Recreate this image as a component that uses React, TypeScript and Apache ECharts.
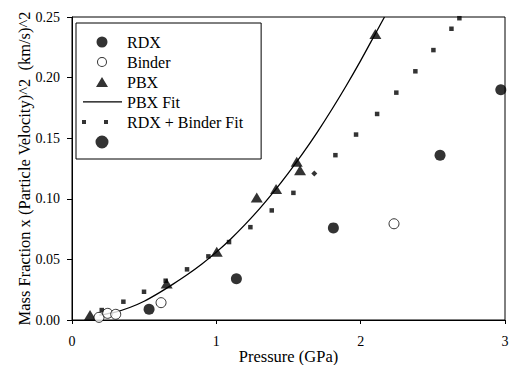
import React, { useEffect, useRef } from "react";
import * as echarts from "echarts";

// RDX (filled circles)
const rdxX = [0.534, 1.139, 1.811, 2.55, 2.971];
const rdxY = [0.0088, 0.034, 0.076, 0.136, 0.19];
// Binder (open circles)
const binderX = [0.187, 0.247, 0.303, 0.617, 2.231];
const binderY = [0.0022, 0.0055, 0.0047, 0.0143, 0.0794];
// PBX (triangles)
const pbxX = [0.125, 0.656, 1.003, 1.28, 1.414, 1.557, 1.58, 2.102];
const pbxY = [0.0041, 0.0302, 0.0563, 0.101, 0.108, 0.1305, 0.1236, 0.236];
// PBX Fit (solid curve)
const pbxFitX = [0.19, 0.3, 0.4, 0.5, 0.6, 0.7, 0.8, 0.9, 1.0, 1.1, 1.2, 1.3, 1.4, 1.5, 1.6, 1.7, 1.8, 1.9, 2.0, 2.1, 2.165];
const pbxFitY = [0.004, 0.0065, 0.0103, 0.0155, 0.0222, 0.0296, 0.0375, 0.0462, 0.056, 0.0669, 0.0789, 0.0919, 0.1061, 0.1214, 0.1377, 0.1551, 0.1737, 0.1933, 0.214, 0.2358, 0.25];
// RDX + Binder Fit (small squares)
const rbFitX = [0.206, 0.356, 0.499, 0.649, 0.797, 0.945, 1.088, 1.236, 1.384, 1.534, 1.679, 1.825, 1.968, 2.114, 2.247, 2.379, 2.504, 2.629, 2.684];
const rbFitY = [0.0082, 0.0151, 0.0233, 0.0324, 0.0418, 0.0525, 0.0643, 0.0766, 0.0904, 0.1049, 0.1208, 0.136, 0.153, 0.17, 0.1876, 0.2052, 0.2227, 0.2403, 0.249];
const rbFitDiamondIndex = 10;

const xTicks = { min: 0, max: 3, interval: 1 };
const yTicks = { min: 0, max: 0.25, interval: 0.05 };
const xTickValues = [0, 1, 2, 3];
const xTickLabels = ["0", "1", "2", "3"];
const yTickValues = [0, 0.05, 0.1, 0.15, 0.2, 0.25];
const yTickLabels = ["0.00", "0.05", "0.10", "0.15", "0.20", "0.25"];
const xTitle = "Pressure (GPa)";
const yTitle = "Mass Fraction x (Particle Velocity)^2  (km/s)^2";

const FONT = "'Liberation Serif', 'Times New Roman', serif";

// legend icons: 40x13 boxes (tiny corner specks fix the box so icons keep their pixel size)
const BOX = "M0,0h0.01v0.01h-0.01z M39.99,12.99h0.01v0.01h-0.01z ";
const ICON_RDX = "path://" + BOX + "M14.5,6.5a5.5,5.5 0 1,0 11,0a5.5,5.5 0 1,0 -11,0z";
const ICON_BINDER =
  "path://" + BOX + "M15,6.5a5,5 0 1,0 10,0a5,5 0 1,0 -10,0z M16,6.5a4,4 0 1,1 8,0a4,4 0 1,1 -8,0z";
const ICON_PBX = "path://" + BOX + "M20,1.5L26,11.5L14,11.5z";
const ICON_FIT = "path://" + BOX + "M1,5.8H40V7.1H1z";
const ICON_RB = "path://" + BOX + "M0,4.5h4v4h-4z M22,4.5h4v4h-4z";
const ICON_BIG = "path://" + BOX + "M13.5,6.5a6.5,6.5 0 1,0 13,0a6.5,6.5 0 1,0 -13,0z";

const zip = (xs: number[], ys: number[]) => xs.map((x, i) => [x, ys[i]]);

export default function App() {
  const ref = useRef<HTMLDivElement>(null);
  useEffect(() => {
    if (!ref.current) return;
    const chart = echarts.init(ref.current, undefined, { renderer: "svg" });
    const rbData = zip(rbFitX, rbFitY).map((p, i) =>
      i === rbFitDiamondIndex ? { value: p, symbol: "diamond", symbolSize: 6 } : { value: p }
    );
    chart.setOption({
      animation: false,
      backgroundColor: "#fff",
      textStyle: { fontFamily: FONT, color: "#000" },
      grid: {
        left: 72,
        right: 6,
        top: 17,
        bottom: 45,
        containLabel: false,
        outerBoundsMode: "none",
        show: true,
        borderColor: "#000",
        borderWidth: 1,
      },
      xAxis: {
        type: "value",
        ...xTicks,
        axisLine: { show: true, onZero: false, lineStyle: { color: "#000", width: 1 } },
        axisTick: { show: true, inside: false, length: 4, lineStyle: { color: "#000" } },
        axisLabel: { show: false },
        splitLine: { show: false },
      },
      yAxis: {
        type: "value",
        ...yTicks,
        axisLine: { show: true, onZero: false, lineStyle: { color: "#000", width: 1 } },
        axisTick: { show: true, inside: false, length: 5, lineStyle: { color: "#000" } },
        axisLabel: { show: false },
        splitLine: { show: false },
      },
      legend: {
        orient: "vertical",
        left: 76,
        top: 23,
        padding: [11, 18, 9, 6],
        itemWidth: 40,
        itemHeight: 13,
        itemGap: 4,
        itemTextGap: 6,
        borderColor: "#000",
        borderWidth: 1,
        itemStyle: { color: "#000", borderWidth: 0 },
        textStyle: { fontFamily: FONT, fontSize: 16, color: "#000" },
        data: [
          { name: "RDX", icon: ICON_RDX },
          { name: "Binder", icon: ICON_BINDER },
          { name: "PBX", icon: ICON_PBX },
          { name: "PBX Fit", icon: ICON_FIT },
          { name: "RDX + Binder Fit", icon: ICON_RB },
          { name: " ", icon: ICON_BIG },
        ],
      },
      series: [
        {
          name: "PBX Fit",
          type: "line",
          data: zip(pbxFitX, pbxFitY),
          smooth: 0.3,
          symbol: "none",
          lineStyle: { color: "#000", width: 1.3 },
          itemStyle: { color: "#000" },
          z: 2,
        },
        {
          name: "RDX + Binder Fit",
          type: "scatter",
          data: rbData,
          symbol: "rect",
          symbolSize: 4.5,
          itemStyle: { color: "#000" },
          z: 3,
        },
        {
          name: "RDX",
          type: "scatter",
          data: zip(rdxX, rdxY),
          symbol: "circle",
          symbolSize: 11,
          itemStyle: { color: "#000" },
          z: 4,
        },
        {
          name: "Binder",
          type: "scatter",
          data: zip(binderX, binderY),
          symbol: "circle",
          symbolSize: 10,
          itemStyle: { color: "#fff", borderColor: "#000", borderWidth: 1 },
          z: 5,
        },
        {
          name: "PBX",
          type: "scatter",
          data: zip(pbxX, pbxY),
          symbol: "triangle",
          symbolSize: [12, 10],
          itemStyle: { color: "#000" },
          z: 4,
        },
        {
          name: " ",
          type: "scatter",
          data: [],
          symbol: "circle",
          symbolSize: 13,
          itemStyle: { color: "#000" },
        },
      ],
    });

    // axis texts placed from the library's own scales
    const px = (x: number, y: number) => chart.convertToPixel({ gridIndex: 0 }, [x, y]) as number[];
    const origin = px(xTicks.min, yTicks.min);
    const corner = px(xTicks.max, yTicks.max);
    const txt = (text: string, x: number, y: number, size: number, align: string, extra: any = {}) => ({
      type: "text",
      x,
      y,
      silent: true,
      ...extra,
      style: {
        text,
        fontFamily: FONT,
        fontSize: size,
        fill: "#000",
        align,
        verticalAlign: "middle",
      },
    });
    const graphics: any[] = [];
    xTickValues.forEach((v, i) => {
      const p = px(v, yTicks.min);
      graphics.push(txt(xTickLabels[i], p[0], origin[1] + 21, 14, "center"));
    });
    yTickValues.forEach((v, i) => {
      const p = px(xTicks.min, v);
      graphics.push(txt(yTickLabels[i], origin[0] - 12, p[1], 14, "right"));
    });
    graphics.push(txt(xTitle, (origin[0] + corner[0]) / 2, origin[1] + 36, 16.5, "center"));
    graphics.push(
      txt(yTitle, origin[0] - 48, (origin[1] + corner[1]) / 2, 16.5, "center", { rotation: Math.PI / 2 })
    );
    chart.setOption({ graphic: graphics });

    return () => chart.dispose();
  }, []);
  return (
    <div
      ref={ref}
      style={{ position: "fixed", left: 0, top: 0, width: 511, height: 365 }}
    />
  );
}
